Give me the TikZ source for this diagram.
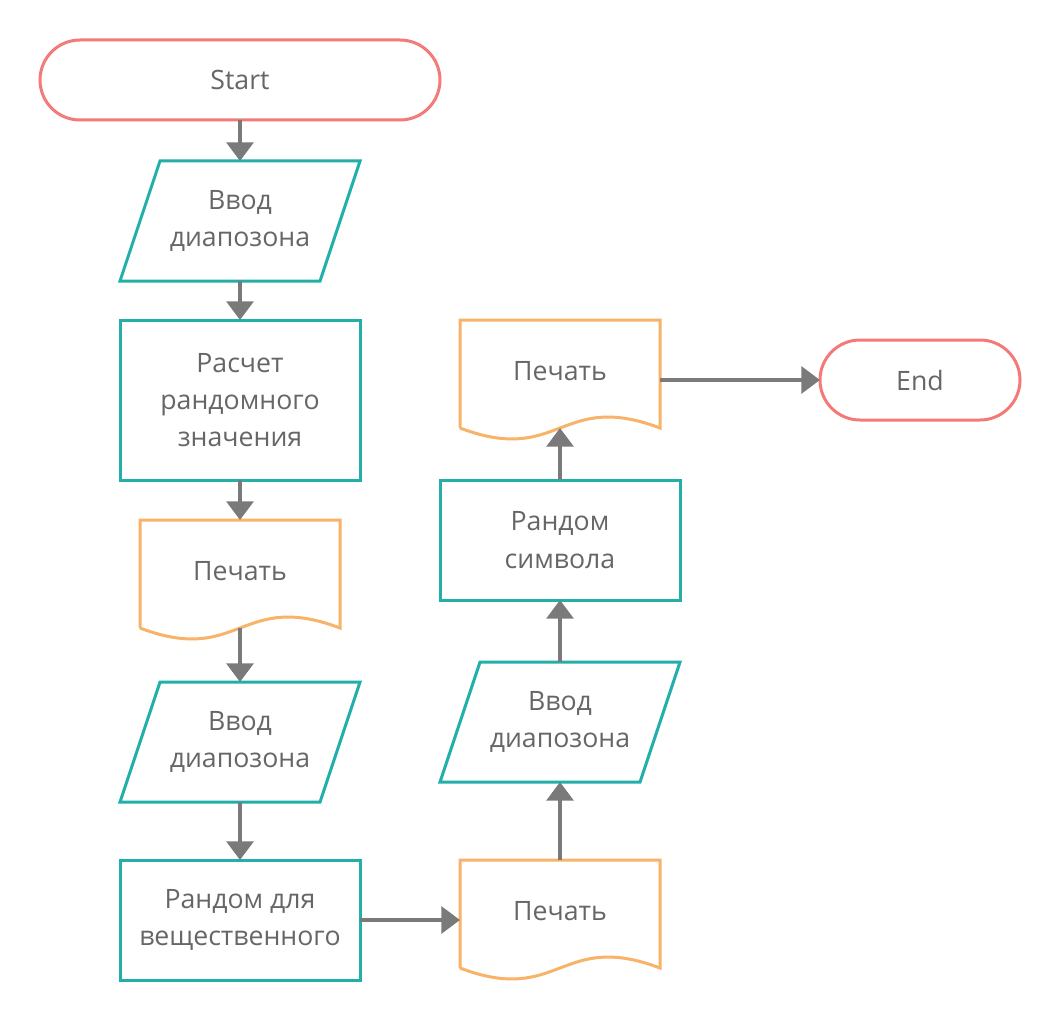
\documentclass[tikz,border=0pt]{standalone}
\usepackage{fontspec}
\setmainfont{Open Sans}
\usetikzlibrary{arrows.meta}
\definecolor{termred}{HTML}{F47A78}
\definecolor{procteal}{HTML}{22AFA9}
\definecolor{docorange}{HTML}{F8B369}
\definecolor{arrowgray}{HTML}{7A7A7A}
\definecolor{textgray}{HTML}{666666}
\tikzset{
  base/.style={inner sep=0pt, outer sep=0pt, align=center, text=textgray,
    font=\fontsize{20}{28}\selectfont, line width=2.25pt},
  terminal/.style={base, draw=termred, rounded corners=30pt, minimum height=60pt},
  procbox/.style={base, draw=procteal, minimum width=180pt},
  iobox/.style={base, minimum width=180pt, minimum height=90pt},
  iostroke/.style={draw=procteal, line width=2.25pt, line join=miter},
  docbox/.style={base, minimum width=150pt, minimum height=81pt},
  docstroke/.style={draw=docorange, line width=2.25pt},
  arr/.style={draw=arrowgray, line width=3pt, -{Triangle[width=20pt,length=14pt]}},
}
\newcommand{\iodraw}[1]{%
  \draw[iostroke] ([xshift=30pt]#1.north west) -- (#1.north east)
    -- ([xshift=-30pt]#1.south east) -- (#1.south west) -- cycle;}
\newcommand{\docdraw}[1]{%
  \draw[docstroke] (#1.south west) -- (#1.north west) -- (#1.north east) -- (#1.south east)
    .. controls ([xshift=-75pt,yshift=28.5pt]#1.south east) and ([xshift=75pt,yshift=-28.5pt]#1.south west) .. (#1.south west);}
\begin{document}
\begin{tikzpicture}[x=0.75pt,y=-0.75pt]
\useasboundingbox[fill=white] (0,0) rectangle (1060,1020);
% left column
\node[terminal, minimum width=300pt] (start) at (240,80) {Start};
\node[iobox] (io1) at (240,221) {Ввод\\диапозона};
\iodraw{io1}
\node[procbox, minimum height=120pt] (calc) at (240,400) {Расчет\\рандомного\\значения};
\node[docbox] (d1) at (240,574) {};
\node[base] at (240,571) {Печать};
\docdraw{d1}
\node[iobox] (io2) at (240,742) {Ввод\\диапозона};
\iodraw{io2}
\node[procbox, minimum height=90pt] (rreal) at (240,920) {Рандом для\\вещественного};
% right column
\node[docbox] (d2) at (560,914) {};
\node[base] at (560,911) {Печать};
\docdraw{d2}
\node[iobox] (io3) at (560,722) {Ввод\\диапозона};
\iodraw{io3}
\node[procbox, minimum height=90pt] (rsym) at (560,540) {Рандом\\символа};
\node[docbox] (d3) at (560,374) {};
\node[base] at (560,371) {Печать};
\docdraw{d3}
\node[terminal, minimum width=150pt] (end) at (920,380) {End};
% connectors
\draw[arr] (start.south) -- (io1.north);
\draw[arr] (io1.south) -- (calc.north);
\draw[arr] (calc.south) -- (d1.north);
\draw[arr] (d1.south) -- (io2.north);
\draw[arr] (io2.south) -- (rreal.north);
\draw[arr] (rreal.east) -- (rreal.east -| d2.west);
\draw[arr] (d2.north) -- (io3.south);
\draw[arr] (io3.north) -- (rsym.south);
\draw[arr] (rsym.north) -- (d3.south);
\draw[arr] (d3.east |- end.west) -- (end.west);
\end{tikzpicture}
\end{document}
